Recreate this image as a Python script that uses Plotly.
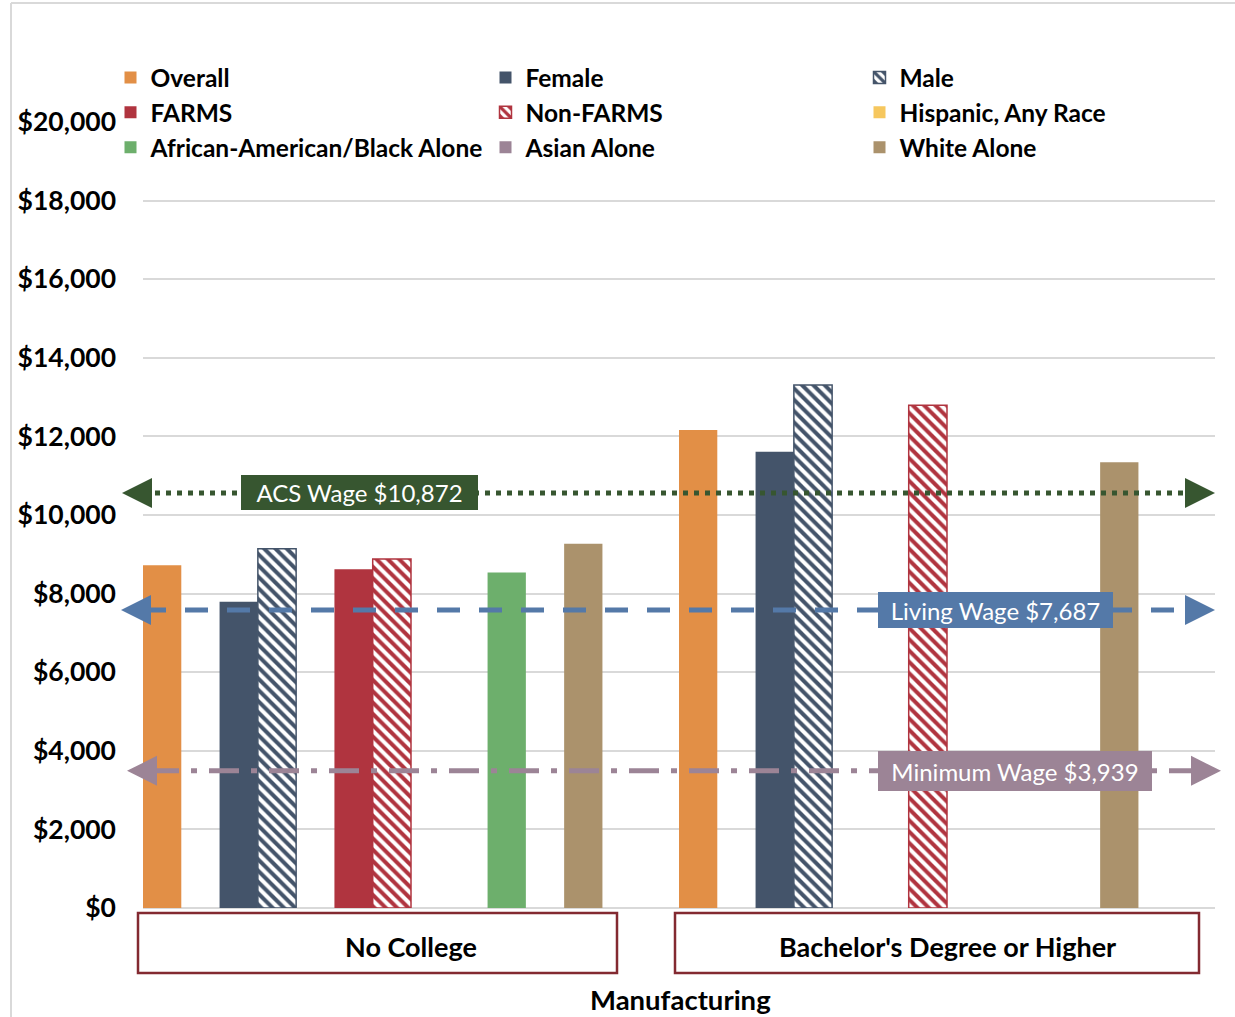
import plotly.graph_objects as go

# ---------------- data ----------------
categories = ["No College", "Bachelor's Degree or Higher"]
series_names = ["Overall", "Female", "Male", "FARMS", "Non-FARMS",
                "Hispanic, Any Race", "African-American/Black Alone",
                "Asian Alone", "White Alone"]
overall = [8720, 12160]
female = [7790, 11610]
male = [9140, 13310]
farms = [8620, None]
non_farms = [8880, 12790]
hispanic = [None, None]
black = [8540, None]
asian = [None, None]
white = [9270, 11340]
series_values = [overall, female, male, farms, non_farms, hispanic, black, asian, white]

y_tick_vals = [0, 2000, 4000, 6000, 8000, 10000, 12000, 14000, 16000, 18000, 20000]
y_tick_text = ["$0", "$2,000", "$4,000", "$6,000", "$8,000", "$10,000",
               "$12,000", "$14,000", "$16,000", "$18,000", "$20,000"]

ref_labels = ["ACS Wage $10,872", "Living Wage $7,687", "Minimum Wage $3,939"]
ref_levels = [10560, 7580, 3490]   # as drawn in the picture
x_title = "Manufacturing"

# ---------------- style ----------------
colors = ["#E28F46", "#44546A", "#44546A", "#B0343F", "#B0343F",
          "#F6C75E", "#6DAF6C", "#9C8496", "#AB926C"]
patterned = [False, False, True, False, True, False, False, False, False]
slots = [0, 2, 3, 5, 6, 8, 9, 10, 11]
n_slots = 14
legend_of = ["legend", "legend2", "legend3", "legend", "legend2",
             "legend3", "legend", "legend2", "legend3"]
FONT = "Lato"

W, H = 1235, 1017
L, R, T, B = 143, 20, 122, 109
PW, PH = W - L - R, H - T - B


def px(xp):
    return (xp - L) / PW


def py(yp):
    return (H - B - yp) / PH


fig = go.Figure()
for name, vals, col, pat, slot, lg in zip(series_names, series_values, colors,
                                          patterned, slots, legend_of):
    marker = dict(color=col, line=dict(width=0))
    if pat:
        marker = dict(color=col, line=dict(color=col, width=1.5),
                      pattern=dict(shape="\\", fgcolor=col, bgcolor="white",
                                   size=8, solidity=0.5, fillmode="replace"))
    fig.add_trace(go.Bar(
        x=categories, y=vals, name=name, marker=marker,
        width=1.0 / n_slots, offset=-0.5 + slot / n_slots,
        legend=lg, hoverinfo="name+y"))

annotations = []
shapes = []

# reference lines (on an overlay axis spanning the plot width) + arrow heads
line_styles = [
    dict(color="#375630", dash="5px,6px"),
    dict(color="#5479A8", dash="23px,19px"),
    dict(color="#9C8496", dash="30px,12px,6px,12px"),
]
left_tips_px = [122, 121, 127]
right_tips_px = [1215, 1215, 1221]
for lvl, st, ltp, rtp in zip(ref_levels, line_styles, left_tips_px, right_tips_px):
    fig.add_trace(go.Scatter(
        x=[px(ltp + 22), px(rtp - 22)], y=[lvl, lvl], xaxis="x2", mode="lines",
        line=dict(color=st["color"], width=5, dash=st["dash"]),
        showlegend=False, hoverinfo="skip"))
    for tip, ax in ((ltp, 24), (rtp, -24)):
        annotations.append(dict(
            text="", xref="paper", yref="y", x=px(tip), y=lvl,
            ax=ax, ay=0, axref="pixel", ayref="pixel",
            showarrow=True, arrowhead=2, arrowwidth=2, arrowsize=3,
            arrowcolor=st["color"], standoff=0))

# label boxes on the reference lines
box_specs = [  # (center x px, width px, height px, bg)
    (359.5, 237, 35, "#375630"),
    (995.5, 235, 36, "#5479A8"),
    (1015, 274, 40, "#9C8496"),
]
for lbl, lvl, (cx, bw, bh, bg) in zip(ref_labels, ref_levels, box_specs):
    annotations.append(dict(
        text=lbl, xref="paper", yref="y", x=px(cx), y=lvl,
        xanchor="center", yanchor="middle", showarrow=False,
        width=bw, height=bh, bgcolor=bg, borderpad=0, borderwidth=0,
        font=dict(family=FONT, size=24, color="white")))

# category boxes
cat_boxes = [(138, 617), (675, 1199)]
cat_centers = [411, 947]
for cat, (x0, x1), cx in zip(categories, cat_boxes, cat_centers):
    shapes.append(dict(type="rect", xref="paper", yref="paper",
                       x0=px(x0), x1=px(x1), y0=py(973), y1=py(913),
                       line=dict(color="#832A31", width=2.5),
                       fillcolor="rgba(0,0,0,0)"))
    annotations.append(dict(
        text=cat, xref="paper", yref="paper", x=px(cx), y=py(946),
        xanchor="center", yanchor="middle", showarrow=False,
        font=dict(family=FONT, size=27, color="black", weight="bold")))

annotations.append(dict(
    text=x_title, xref="paper", yref="paper", x=px(680), y=py(999),
    xanchor="center", yanchor="middle", showarrow=False,
    font=dict(family=FONT, size=27.5, color="black", weight="bold")))

# chart-area border (cropped)
shapes.append(dict(type="line", xref="paper", yref="paper",
                   x0=px(11), x1=px(1245), y0=py(3), y1=py(3),
                   line=dict(color="#D9D9D9", width=2)))
shapes.append(dict(type="line", xref="paper", yref="paper",
                   x0=px(11), x1=px(11), y0=py(3), y1=py(1030),
                   line=dict(color="#D9D9D9", width=2)))

legend_font = dict(family=FONT, size=24.5, color="black", weight="bold")
leg_common = dict(orientation="v", xanchor="left", yanchor="top",
                  y=py(55), font=legend_font, bgcolor="rgba(0,0,0,0)",
                  itemclick=False, itemdoubleclick=False, tracegroupgap=0)

fig.update_layout(
    width=W, height=H,
    margin=dict(l=L, r=R, t=T, b=B, pad=0),
    paper_bgcolor="white", plot_bgcolor="white",
    barmode="overlay",
    showlegend=True,
    legend=dict(x=px(110.5), **leg_common),
    legend2=dict(x=px(485.5), **leg_common),
    legend3=dict(x=px(859.5), **leg_common),
    xaxis=dict(type="category", categoryorder="array", categoryarray=categories,
               range=[-0.5, 1.5], showticklabels=False, showgrid=False,
               zeroline=False, showline=False, ticks=""),
    xaxis2=dict(overlaying="x", range=[0, 1], visible=False),
    yaxis=dict(range=[0, 20000], tickvals=y_tick_vals, ticktext=y_tick_text,
               showgrid=True, gridcolor="#D9D9D9", gridwidth=1.5,
               zeroline=True, zerolinecolor="#D9D9D9", zerolinewidth=1.5,
               showline=False, ticks="", ticklabelstandoff=26,
               tickfont=dict(family=FONT, size=26.5, color="black", weight="bold")),
    annotations=annotations,
    shapes=shapes,
    hovermode="closest",
)

fig.write_html("out.html")
